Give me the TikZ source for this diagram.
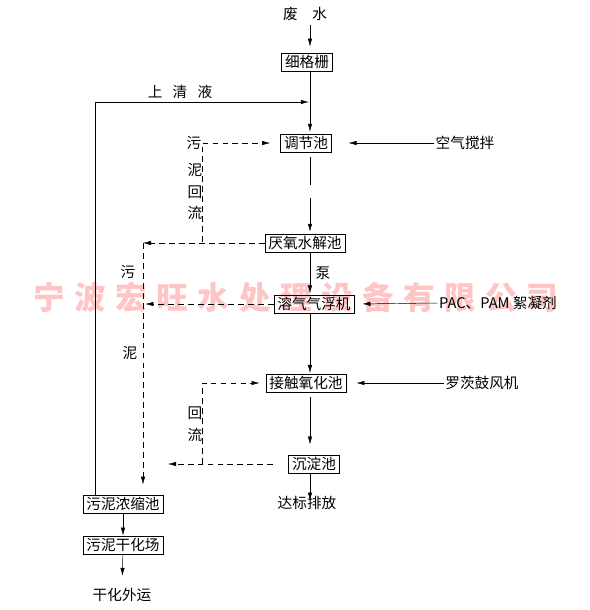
\documentclass[tikz,border=0pt]{standalone}
\usepackage{fontspec}
\newfontfamily\cjk{Noto Sans CJK SC}
\usetikzlibrary{arrows.meta}

\begin{document}
\begin{tikzpicture}[
    x=0.03cm, y=-0.03cm,
    >={Latex[length=2.4mm,width=1.3mm]},
    block/.style = {
        rectangle,
        draw,
        line width=0.6pt,
        inner xsep=3pt,
        inner ysep=2pt,
        font=\cjk\fontsize{12.5}{15}\selectfont
    },
    txt/.style = {
        inner sep=1pt,
        font=\cjk\fontsize{12.5}{15}\selectfont
    },
    stamp/.style = {
        text=red!45!white,
        opacity=0.5,
        font=\cjk\bfseries\addfontfeature{LetterSpace=30}\fontsize{27}{30}\selectfont
    },
    flow/.style = {
        dash pattern=on 5pt off 3.5pt
    }
]

\useasboundingbox (0,0) rectangle (590,610);

% Watermark behind everything
\node[stamp] (wm) at (296,297) {宁波宏旺水处理设备有限公司};

% Treatment units with explicit coordinates
\node[block] (grid)    at (307,62)  {细格栅};
\node[block] (adjust)  at (306,143) {调节池};
\node[block] (hydro)   at (305,243) {厌氧水解池};
\node[block] (daf)     at (314,304) {溶气气浮机};
\node[block] (contact) at (306,383) {接触氧化池};
\node[block] (settle)  at (314,464) {沉淀池};
\node[block] (thick)   at (123,504) {污泥浓缩池};
\node[block] (dry)     at (123,545) {污泥干化场};

% Inputs, outputs and labels
\node[txt] (inlet)  at (305,14)  {废\hspace{1em}水};
\node[txt] (clear)  at (180,92)  {上\hspace{0.7em}清\hspace{0.7em}液};
\node[txt] (air)    at (465,143) {空气搅拌};
\node[txt] (pac)    at (498,303) {PAC、PAM 絮凝剂};
\node[txt] (blower) at (482,383) {罗茨鼓风机};
\node[txt] (out)    at (307,503) {达标排放};
\node[txt] (cake)   at (122,595) {干化外运};
\node[txt] (pump)   at (323,273) {泵};

\node[txt] (r1) at (194,143) {污};
\node[txt] (r2) at (195,170) {泥};
\node[txt] (r3) at (195,192) {回};
\node[txt] (r4) at (195,213) {流};
\node[txt] (s1) at (128,272) {污};
\node[txt] (s2) at (130,353) {泥};
\node[txt] (r5) at (195,413) {回};
\node[txt] (r6) at (195,435) {流};

% Helper coordinates
\coordinate (trunk)    at (310,0);
\coordinate (sludge)   at (143,0);
\coordinate (ret1)     at (202,242);
\coordinate (ret2)     at (202,464);
\coordinate (drop)     at (168,464);
\coordinate (overflow) at (95,102);
\coordinate (brkA)     at (310,185);
\coordinate (brkB)     at (310,198);

% Main water line
\draw[->, shorten <=2pt, shorten >=5pt] (inlet.south -| trunk) -- (grid.north -| trunk);
\draw[->, shorten >=1.5pt] (grid.south -| trunk) -- (adjust.north -| trunk);
\draw[shorten <=0.15cm] (adjust.south -| trunk) -- (brkA);
\draw[->, shorten >=1.5pt] (brkB) -- (hydro.north -| trunk);
\draw[->, shorten >=1pt] (hydro.south -| trunk) -- (daf.north -| trunk);
\draw[->, shorten >=0.5pt] (daf.south -| trunk) -- (contact.north -| trunk);
\draw[->, shorten <=0.15cm, shorten >=0.3cm] (contact.south -| trunk) -- (settle.north -| trunk);
\draw[->, shorten >=2pt] (settle.south -| trunk) -- (out.center -| trunk);

% Dosing and air
\draw[->, shorten >=0.5cm] (air.west) -- (adjust.east);
\draw[->, shorten >=0.24cm] (pac.west) -- (daf.east);
\draw[->, shorten >=0.3cm] (blower.west) -- (contact.east);

% Supernatant back to equalisation
\draw[->, shorten >=1pt] (thick.north -| overflow) -- (overflow) -- (overflow -| trunk);

% Sludge return and sludge lines (dashed)
\draw[flow, ->, shorten >=0.3cm] (ret1) |- (adjust.west);
\draw[flow, ->] (hydro.west) -- (hydro.west -| sludge);
\draw[flow, ->, shorten >=2pt] (daf.west) -- (daf.west -| sludge);
\draw[flow, ->, shorten >=0.3cm] (hydro.west -| sludge) -- (thick.north -| sludge);
\draw[flow, ->, shorten >=0.18cm] (ret2) |- (contact.west);
\draw[flow, ->, shorten <=0.45cm] (settle.west) -- (drop);

% Sludge handling
\draw[->] (thick) -- (dry);
\draw[->, shorten >=0.33cm] (dry) -- (cake);

\end{tikzpicture}
\end{document}
